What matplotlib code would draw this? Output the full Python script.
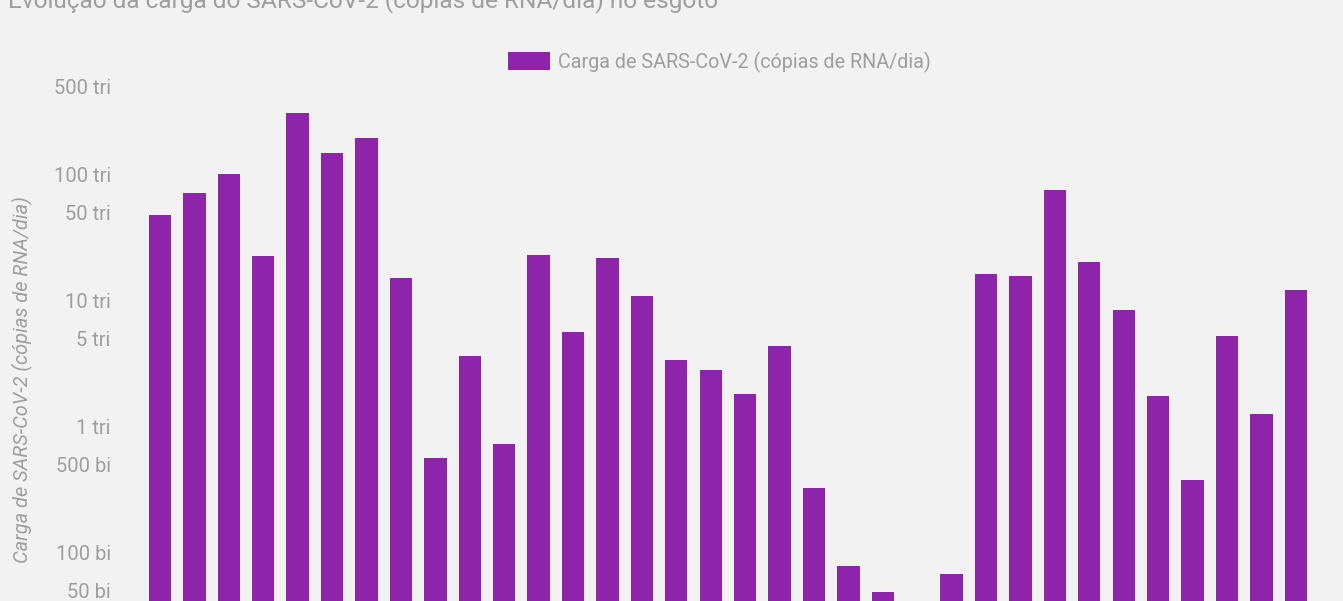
import numpy as np
import matplotlib
matplotlib.use("Agg")
import matplotlib.pyplot as plt

# weekly SARS-CoV-2 load in sewage, trillions of RNA copies per day
semanas = ["S%d" % i for i in range(1, 35)]
carga_tri = [47.9, 71.6, 99.5, 22.3, 308, 148.6, 191.9, 15.0, 0.561, 3.60,
             0.725, 23.1, 5.58, 21.5, 10.8, 3.35, 2.79, 1.80, 4.32, 0.325,
             0.0783, 0.0488, np.nan, 0.0677, 16.1, 15.5, 74.3, 20.0, 8.34, 1.74,
             0.376, 5.20, 1.25, 12.0]

tick_vals = [5e10, 1e11, 5e11, 1e12, 5e12, 1e13, 5e13, 1e14, 5e14]
tick_labels = ["50 bi", "100 bi", "500 bi", "1 tri", "5 tri", "10 tri",
               "50 tri", "100 tri", "500 tri"]

titulo = "Evolução da carga do SARS-CoV-2 (cópias de RNA/dia) no esgoto"
serie = "Carga de SARS-CoV-2 (cópias de RNA/dia)"

roxo = "#8e24aa"
fundo = "#f2f2f2"
cinza = "#9e9e9e"

plt.rcParams["font.family"] = ["Roboto", "DejaVu Sans"]

W, H = 1343, 601
fig = plt.figure(figsize=(W / 100, H / 100), dpi=100, facecolor=fundo)

# axes box in pixels (bottom of the chart, with the week labels, is cut off)
left, right, top, bottom = 142.8, 1313.0, 86.0, 679.0
ax = fig.add_axes([left / W, 1 - bottom / H, (right - left) / W, (bottom - top) / H])
ax.set_facecolor(fundo)

valores = np.array(carga_tri) * 1e12
x = np.arange(len(semanas))
ax.bar(x, valores, width=0.65, color=roxo, label=serie)

ax.set_yscale("log")
ax.set_ylim(1e10, 5e14)
ax.set_xlim(-0.5, len(semanas) - 0.5)
ax.set_yticks(tick_vals)
ax.set_yticklabels(tick_labels)
ax.yaxis.set_minor_locator(matplotlib.ticker.NullLocator())
ax.set_xticks(x)
ax.tick_params(axis="y", length=0, pad=23, labelsize=14.5, labelcolor=cinza)
ax.tick_params(axis="x", length=0, labelbottom=False)
for s in ax.spines.values():
    s.set_visible(False)

fig.text(22 / W, 1 - 380 / H, serie, rotation=90, ha="center", va="center",
         fontsize=14.4, style="italic", color=cinza)

fig.text(8 / W, 1 - 7 / H, titulo, ha="left", va="baseline",
         fontsize=17.6, color=cinza)

fig.legend(loc="center", bbox_to_anchor=(719.5 / W, 1 - 62 / H), frameon=False,
           fontsize=14.2, labelcolor=cinza, handlelength=2.1, handleheight=1.05,
           handletextpad=0.4)

fig.savefig("out.png", dpi=100, facecolor=fundo)
